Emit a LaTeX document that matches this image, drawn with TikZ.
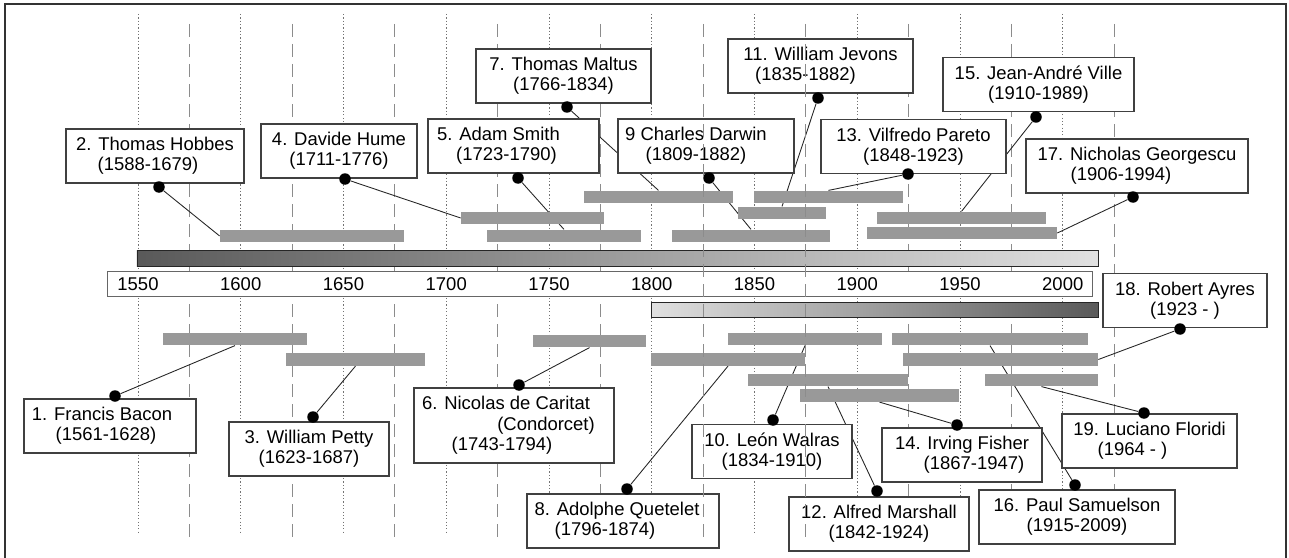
\documentclass[tikz,border=0pt]{standalone}
\usepackage{fontspec}
\setmainfont{Liberation Sans}

\pgfdeclarelayer{grid}
\pgfdeclarelayer{links}
\pgfdeclarelayer{front}
\pgfsetlayers{grid,links,main,front}

\tikzstyle{person} = [draw=black!75, line width=0.6pt, fill=white, align=center, minimum height=10.8mm, inner sep=0pt, font=\fontsize{10.5}{11.6}\selectfont]
\tikzstyle{life} = [fill=black!40, inner sep=0pt, minimum height=2.5mm]
\tikzstyle{bullet} = [circle, fill, inner sep=0pt, minimum size=2.3mm]
\tikzstyle{link} = [black!85, line width=0.5pt]
\tikzstyle{year} = [font=\fontsize{10.5}{12}\selectfont]
\tikzstyle{fifty} = [black!55, line width=0.5pt, dash pattern=on 0.7pt off 1.2pt]
\tikzstyle{quarter} = [black!45, line width=0.5pt, dash pattern=on 2.6mm off 1.4mm]

\begin{document}
\begin{tikzpicture}[x=0.2mm, y=-0.2mm]
\useasboundingbox (0,0) rectangle (1289,558);
\draw[black!80, line width=0.6pt] (5,4) rectangle (1286,575);

\begin{pgfonlayer}{grid}
\foreach \yr in {1550,1600,...,2000}
    \draw[fifty] ({138+(\yr-1550)*2.055},14) -- ({138+(\yr-1550)*2.055},533);
\foreach \yr in {1575,1625,1675,1725,1775,1925,1975,2025}
    \draw[quarter] ({138+(\yr-1550)*2.055},24) -- ({138+(\yr-1550)*2.055},537);
\end{pgfonlayer}

\node[draw=black!85, left color=black!65, right color=black!12, minimum width=192.2mm, minimum height=3.2mm, inner sep=0pt] (past) at (617.5,258) {};
\node[draw=black!60, fill=white, minimum width=197mm, minimum height=5mm, inner sep=0pt] (axis) at (599.5,283.5) {};
\node[draw=black!85, left color=black!12, right color=black!65, minimum width=89.4mm, minimum height=3mm, inner sep=0pt] (recent) at (874.5,309.5) {};
\foreach \yr in {1550,1600,...,2000}
    \node[year] (y\yr) at ({138+(\yr-1550)*2.055},284) {\yr};

\node[life, minimum width=36.8mm] (hobbes) at (312,236) {};
\node[life, minimum width=28.6mm] (hume) at (532.5,218) {};
\node[life, minimum width=30.8mm] (smith) at (564,236) {};
\node[life, minimum width=29.8mm] (maltus) at (658.5,197) {};
\node[life, minimum width=31.6mm] (darwin) at (751,236) {};
\node[life, minimum width=17.6mm] (jevons) at (782,213) {};
\node[life, minimum width=29.8mm] (pareto) at (828.5,197) {};
\node[life, minimum width=33.8mm] (ville) at (961.5,218) {};
\node[life, minimum width=38mm] (georgescu) at (962,233) {};

\node[life, minimum width=28.8mm] (bacon) at (235,339) {};
\node[life, minimum width=27.8mm] (petty) at (355.5,359.5) {};
\node[life, minimum width=22.6mm] (condorcet) at (589.5,341) {};
\node[life, minimum width=30.8mm] (quetelet) at (728,359.5) {};
\node[life, minimum width=30.8mm] (walras) at (805,339) {};
\node[life, minimum width=32mm] (marshall) at (828,380) {};
\node[life, minimum width=31.8mm] (fisher) at (879.5,395.5) {};
\node[life, minimum width=39.2mm] (samuelson) at (990,339) {};
\node[life, minimum width=39mm] (ayres) at (1000.5,359.5) {};
\node[life, minimum width=22.6mm] (floridi) at (1041.5,380) {};

\node[person, minimum width=34.4mm] (p1) at (110,426) {\hspace*{-3.2mm}1. Francis Bacon\\\hspace*{-1.6mm}(1561-1628)};
\node[person, minimum width=35.6mm] (p2) at (155,156) {2. Thomas Hobbes\\\hspace*{-2.8mm}(1588-1679)};
\node[person, minimum width=32mm] (p3) at (309,449) {3. William Petty\\(1623-1687)};
\node[person, minimum width=31.2mm] (p4) at (339,151) {4. Davide Hume\\(1711-1776)};
\node[person, minimum width=34.2mm] (p5) at (513.5,146) {\hspace*{-6mm}5. Adam Smith\\\hspace*{-2.8mm}(1723-1790)};
\node[person, minimum width=40mm, minimum height=15mm] (p6) at (514,425.5) {\hspace*{-3.2mm}6. Nicolas de Caritat\\\hspace*{12.8mm}(Condorcet)\\\hspace*{-4.8mm}(1743-1794)};
\node[person, minimum width=35mm] (p7) at (563.5,76) {7. Thomas Maltus\\(1766-1834)};
\node[person, minimum width=38.4mm] (p8) at (623,521) {\hspace*{-2.4mm}8. Adolphe Quetelet\\\hspace*{-7.2mm}(1796-1874)};
\node[person, minimum width=35.2mm] (p9) at (706,146) {\hspace*{-4mm}9 Charles Darwin\\\hspace*{-4mm}(1809-1882)};
\node[person, minimum width=32mm] (p10) at (772,451.5) {10. León Walras\\(1834-1910)};
\node[person, minimum width=37mm] (p11) at (820.5,66) {11. William Jevons\\\hspace*{-6mm}(1835-1882)};
\node[person, minimum width=36mm] (p12) at (879,524) {12. Alfred Marshall\\(1842-1924)};
\node[person, minimum width=37mm] (p13) at (913.5,146.5) {13. Vilfredo Pareto\\(1848-1923)};
\node[person, minimum width=32mm] (p14) at (962,455) {14. Irving Fisher\\\hspace*{4.8mm}(1867-1947)};
\node[person, minimum width=38.2mm] (p15) at (1038.5,84.5) {15. Jean-André Ville\\(1910-1989)};
\node[person, minimum width=39.2mm] (p16) at (1077,517) {16. Paul Samuelson\\(1915-2009)};
\node[person, minimum width=44.4mm] (p17) at (1137,166) {17. Nicholas Georgescu\\\hspace*{-6.4mm}(1906-1994)};
\node[person, minimum width=32.8mm] (p18) at (1185,300.5) {18. Robert Ayres\\(1923 - )};
\node[person, minimum width=35mm] (p19) at (1149.5,441) {19. Luciano Floridi\\\hspace*{-6.8mm}(1964 - )};

\node[bullet] (d1) at (115,396) {};
\node[bullet] (d2) at (159,187) {};
\node[bullet] (d3) at (313,417) {};
\node[bullet] (d4) at (345,179) {};
\node[bullet] (d5) at (518,178) {};
\node[bullet] (d6) at (519,385) {};
\node[bullet] (d7) at (567,107) {};
\node[bullet] (d8) at (627,489) {};
\node[bullet] (d9) at (709,178) {};
\node[bullet] (d10) at (773,420) {};
\node[bullet] (d11) at (818,98) {};
\node[bullet] (d12) at (877,491) {};
\node[bullet] (d13) at (908,174) {};
\node[bullet] (d14) at (957,425) {};
\node[bullet] (d15) at (1036,117) {};
\node[bullet] (d16) at (1075,485) {};
\node[bullet] (d17) at (1133,197) {};
\node[bullet] (d18) at (1180,329) {};
\node[bullet] (d19) at (1144,413) {};

\begin{pgfonlayer}{links}
\draw[link] (d1) -- (bacon.south);
\draw[link] (d2) -- (hobbes.west);
\draw[link] (d3) -- (petty.south);
\draw[link] (d4) -- (hume.west);
\draw[link] (d5) -- (smith.north);
\draw[link] (d6) -- (condorcet.south);
\draw[link] (d7) -- (maltus.north);
\draw[link] (d8) -- (quetelet.south);
\draw[link] (d9) -- (darwin.north);
\draw[link] (d10) -- (walras.south);
\draw[link] (d11) -- (jevons.north);
\draw[link] (d12) -- (marshall.south);
\draw[link] (d13) -- (pareto.north);
\draw[link] (d14) -- (fisher.south);
\draw[link] (d15) -- (ville.north);
\draw[link] (d16) -- (samuelson.south);
\draw[link] (d17) -- (georgescu.east);
\draw[link] (d18) -- (ayres.east);
\draw[link] (d19) -- (floridi.south);
\end{pgfonlayer}

\begin{pgfonlayer}{front}
\foreach \yr in {1825,1875}
    \draw[quarter] ({138+(\yr-1550)*2.055},24) -- ({138+(\yr-1550)*2.055},537);
\end{pgfonlayer}
\end{tikzpicture}
\end{document}
